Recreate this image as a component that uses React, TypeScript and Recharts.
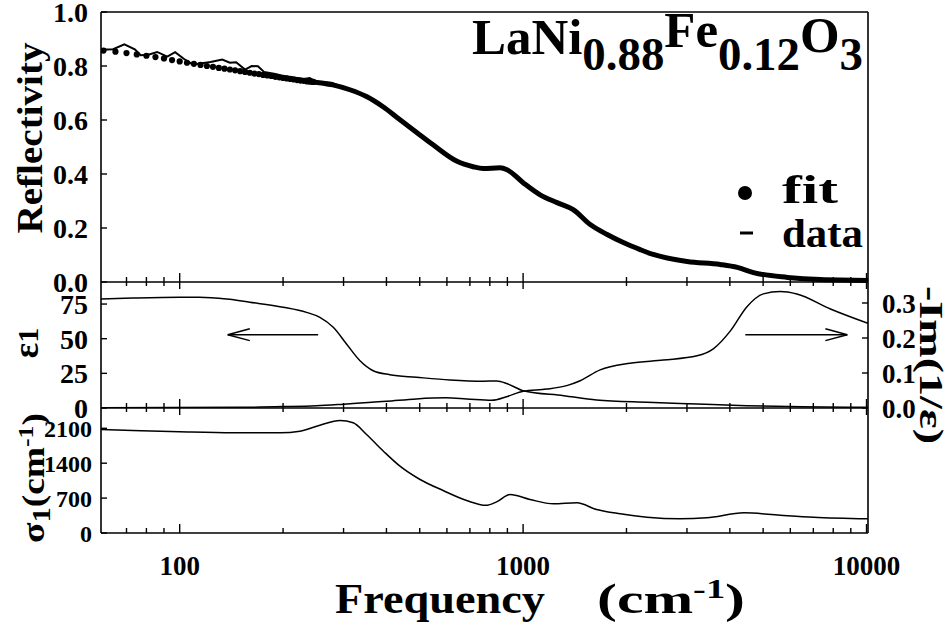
import React from 'react';
import { LineChart, Line, XAxis, YAxis, ReferenceLine } from 'recharts';

const FONT = "'Liberation Serif', 'Times New Roman', Times, serif";

// ---------- x axis (frequency, cm-1, log) ----------
const xDomain = [59, 10100];
const xMajorTicks = [100, 1000, 10000];
const xMinorTicks = [70, 80, 90, 200, 300, 400, 500, 600, 700, 800, 900, 2000, 3000, 4000, 5000, 6000, 7000, 8000, 9000];
const xAllTicks = [...xMinorTicks, ...xMajorTicks].sort((a, b) => a - b);

// ---------- panel 1: reflectivity ----------
const reflTicks = [0, 0.2, 0.4, 0.6, 0.8, 1.0];
const reflFitDotFreq = [60, 65, 70, 75, 80, 85, 90, 95, 100, 105, 110, 115, 120, 125, 130, 135, 140, 145, 150, 155, 160, 165, 170, 175, 180, 185, 190, 195, 200, 205, 210, 215, 220, 225, 230, 235, 240, 245];
const reflFitDotR = [0.857, 0.853, 0.848, 0.843, 0.838, 0.833, 0.828, 0.822, 0.817, 0.812, 0.808, 0.804, 0.8, 0.797, 0.793, 0.79, 0.787, 0.784, 0.781, 0.778, 0.775, 0.772, 0.77, 0.767, 0.765, 0.763, 0.76, 0.758, 0.756, 0.754, 0.752, 0.75, 0.748, 0.746, 0.745, 0.743, 0.742, 0.741];
const reflFitFreq = [240, 279, 313, 351, 391, 438, 491, 547, 642, 715, 765, 857, 898, 1000, 1121, 1256, 1399, 1568, 1757, 1958, 2192, 2393, 3006, 3750, 4207, 4686, 5888, 7340, 10100];
const reflFitR = [0.742, 0.73, 0.712, 0.686, 0.649, 0.601, 0.553, 0.508, 0.447, 0.427, 0.42, 0.423, 0.416, 0.368, 0.323, 0.294, 0.268, 0.213, 0.176, 0.146, 0.12, 0.102, 0.076, 0.065, 0.054, 0.035, 0.017, 0.009, 0.006];
const reflDataFreq = [59, 64, 69, 74, 77, 81, 86, 92, 97, 103, 109, 116, 123, 133, 140, 146, 155, 162, 169, 176, 190, 200, 215, 230, 239, 250, 265, 277, 290, 313, 351, 391, 438, 491, 547, 642, 715, 765, 857, 898, 1000, 1121, 1256, 1399, 1568, 1757, 1958, 2192, 2393, 3006, 3750, 4207, 4686, 5888, 7340, 10100];
const reflDataR = [0.86, 0.862, 0.88, 0.862, 0.84, 0.842, 0.852, 0.835, 0.851, 0.826, 0.806, 0.81, 0.815, 0.824, 0.812, 0.814, 0.787, 0.8, 0.799, 0.778, 0.77, 0.763, 0.757, 0.752, 0.755, 0.742, 0.74, 0.738, 0.728, 0.712, 0.69, 0.649, 0.601, 0.553, 0.508, 0.447, 0.427, 0.42, 0.423, 0.416, 0.368, 0.323, 0.294, 0.268, 0.213, 0.176, 0.146, 0.12, 0.102, 0.076, 0.065, 0.054, 0.035, 0.017, 0.009, 0.006];

// ---------- panel 2: eps1 (left) and -Im(1/eps) (right) ----------
const eps1Ticks = [0, 25, 50, 75];
const lossTicks = [0, 0.1, 0.2, 0.3];
const eps1Freq = [59, 73, 100, 114, 137, 160, 200, 234, 256, 280, 306, 335, 366, 409, 489, 612, 765, 838, 900, 1000, 1312, 1636, 2295, 3210, 4474, 6500, 10100];
const eps1Val = [78.6, 79.3, 79.9, 79.9, 78.6, 76.3, 72.7, 69.0, 65.4, 58.2, 46.2, 34.1, 26.9, 24.0, 22.2, 20.2, 19.3, 19.5, 17.5, 12.5, 8.9, 5.8, 4.1, 2.9, 1.7, 0.9, 0.5];
const lossFreq = [59, 150, 200, 250, 300, 400, 489, 596, 685, 810, 900, 1000, 1171, 1340, 1466, 1676, 2047, 2560, 3210, 3580, 4020, 4474, 5006, 5608, 6270, 7850, 10100];
const lossVal = [0.001, 0.002, 0.004, 0.0066, 0.011, 0.019, 0.026, 0.029, 0.026, 0.022, 0.033, 0.048, 0.054, 0.064, 0.078, 0.109, 0.128, 0.137, 0.149, 0.169, 0.221, 0.288, 0.326, 0.333, 0.326, 0.283, 0.242];
// arrows (eps1 units): left arrow points to eps1 axis, right arrow to loss axis
const arrowLevel = 52.9;
const arrowLeft = [138, 253];
const arrowRight = [4436, 8790];
const arrowHeadBackLeft = 160;
const arrowHeadBackRight = 7590;
const arrowHeadHalf = 4.3;

// ---------- panel 3: sigma1 ----------
const sigmaTicks = [0, 700, 1400, 2100];
const sigmaFreq = [59, 73, 100, 143, 196, 224, 256, 293, 320, 350, 392, 438, 501, 585, 685, 780, 840, 916, 1047, 1225, 1434, 1636, 1917, 2295, 2860, 3425, 4395, 5608, 7010, 10100];
const sigmaVal = [2076, 2056, 2030, 2010, 2010, 2042, 2162, 2256, 2210, 1976, 1641, 1340, 1073, 852, 652, 555, 630, 772, 672, 586, 606, 471, 385, 317, 285, 305, 405, 357, 317, 285];

const zip = (xs: number[], ys: number[]) => xs.map((x, i) => ({ x, y: ys[i] }));

const reflFitDots = zip(reflFitDotFreq, reflFitDotR);
const reflFit = zip(reflFitFreq, reflFitR);
const reflData = zip(reflDataFreq, reflDataR);
const eps1Data = zip(eps1Freq, eps1Val);
const lossData = zip(lossFreq, lossVal);
const sigmaData = zip(sigmaFreq, sigmaVal);

const W = 949;
const H = 626;
const P1_TOP = 12;
const P1_BOTTOM = 282;
const P2_BOTTOM = 408;
const P3_BOTTOM = 533;
const LEFT_W = 101;
const RIGHT_W = 81;
const SW = 1.6;

const txtStyle: React.CSSProperties = { fontFamily: FONT, fontWeight: 700 };

const makeXTick = (cross: boolean, showLabel: boolean) => (props: any) => {
  const { x, y, payload } = props;
  const v = payload.value;
  const major = xMajorTicks.includes(v);
  const up = major ? 9 : 5;
  const down = cross ? (major ? 7 : 4) : 0;
  return (
    <g>
      <line x1={x} x2={x} y1={y - up} y2={y + down} stroke="#000" strokeWidth={1.4} />
      {showLabel && major ? (
        <text x={x} y={y + 42} textAnchor="middle" style={txtStyle} fontSize={27} fill="#000">
          {String(v)}
        </text>
      ) : null}
    </g>
  );
};

const makeLeftTick = (fmt: (v: number) => string, fontSize: number, gap: number) => (props: any) => {
  const { x, y, payload } = props;
  return (
    <g>
      <line x1={x} x2={x + 6} y1={y} y2={y} stroke="#000" strokeWidth={1.4} />
      <text x={x - gap} y={y} dy="0.36em" textAnchor="end" style={txtStyle} fontSize={fontSize} fill="#000">
        {fmt(payload.value)}
      </text>
    </g>
  );
};

const makeRightTick = (fmt: (v: number) => string, fontSize: number, gap: number) => (props: any) => {
  const { x, y, payload } = props;
  return (
    <g>
      <line x1={x - 6} x2={x} y1={y} y2={y} stroke="#000" strokeWidth={1.4} />
      <text x={x + gap} y={y} dy="0.36em" textAnchor="start" style={txtStyle} fontSize={fontSize} fill="#000">
        {fmt(payload.value)}
      </text>
    </g>
  );
};

const axisLine = { stroke: '#000', strokeWidth: SW };

const xAxisProps = (cross: boolean, showLabel: boolean, height: number) => ({
  dataKey: 'x',
  type: 'number' as const,
  scale: 'log' as const,
  domain: xDomain,
  allowDataOverflow: true,
  ticks: xAllTicks,
  interval: 0 as const,
  tickSize: 0,
  tickMargin: 0,
  tickLine: false,
  axisLine,
  height,
  tick: makeXTick(cross, showLabel),
});

const layer: React.CSSProperties = { position: 'absolute', left: 0, top: 0 };

function Panel1() {
  return (
    <LineChart width={W} height={H} margin={{ top: P1_TOP, right: 0, left: 0, bottom: H - P1_BOTTOM - 20 }}>
      <XAxis {...xAxisProps(true, false, 20)} />
      <YAxis
        yAxisId="l"
        type="number"
        domain={[0, 1]}
        ticks={reflTicks}
        interval={0}
        width={LEFT_W}
        tickSize={0}
        tickMargin={0}
        tickLine={false}
        axisLine={axisLine}
        tick={makeLeftTick((v) => v.toFixed(1), 28, 13)}
      />
      <YAxis yAxisId="r" orientation="right" type="number" domain={[0, 1]} width={RIGHT_W} tick={false} tickLine={false} axisLine={axisLine} />
      <ReferenceLine yAxisId="l" y={1} stroke="#000" strokeWidth={SW} />
      <Line yAxisId="l" data={reflData} dataKey="y" type="linear" stroke="#000" strokeWidth={2} dot={false} isAnimationActive={false} />
      <Line yAxisId="l" data={reflFit} dataKey="y" type="monotone" stroke="#000" strokeWidth={5} dot={false} isAnimationActive={false} />
      <Line
        yAxisId="l"
        data={reflFitDots}
        dataKey="y"
        stroke="none"
        dot={{ r: 3.1, fill: '#000', stroke: 'none' }}
        isAnimationActive={false}
      />
    </LineChart>
  );
}

function Panel2() {
  return (
    <LineChart width={W} height={H} margin={{ top: P1_BOTTOM, right: 0, left: 0, bottom: H - P2_BOTTOM - 20 }}>
      <XAxis {...xAxisProps(true, false, 20)} />
      <YAxis
        yAxisId="l"
        type="number"
        domain={[0, 90.9]}
        allowDataOverflow
        ticks={eps1Ticks}
        interval={0}
        width={LEFT_W}
        tickSize={0}
        tickMargin={0}
        tickLine={false}
        axisLine={axisLine}
        tick={makeLeftTick((v) => String(v), 28, 13)}
      />
      <YAxis
        yAxisId="r"
        orientation="right"
        type="number"
        domain={[0, 0.36]}
        allowDataOverflow
        ticks={lossTicks}
        interval={0}
        width={RIGHT_W}
        tickSize={0}
        tickMargin={0}
        tickLine={false}
        axisLine={axisLine}
        tick={makeRightTick((v) => v.toFixed(1), 27, 14)}
      />
      <Line yAxisId="l" data={eps1Data} dataKey="y" type="monotone" stroke="#000" strokeWidth={1.5} dot={false} isAnimationActive={false} />
      <Line yAxisId="r" data={lossData} dataKey="y" type="monotone" stroke="#000" strokeWidth={1.5} dot={false} isAnimationActive={false} />
      <ReferenceLine yAxisId="l" segment={[{ x: arrowLeft[0], y: arrowLevel }, { x: arrowLeft[1], y: arrowLevel }]} stroke="#000" strokeWidth={1.5} />
      <ReferenceLine yAxisId="l" segment={[{ x: arrowLeft[0], y: arrowLevel }, { x: arrowHeadBackLeft, y: arrowLevel + arrowHeadHalf }]} stroke="#000" strokeWidth={1.5} />
      <ReferenceLine yAxisId="l" segment={[{ x: arrowLeft[0], y: arrowLevel }, { x: arrowHeadBackLeft, y: arrowLevel - arrowHeadHalf }]} stroke="#000" strokeWidth={1.5} />
      <ReferenceLine yAxisId="l" segment={[{ x: arrowRight[0], y: arrowLevel }, { x: arrowRight[1], y: arrowLevel }]} stroke="#000" strokeWidth={1.5} />
      <ReferenceLine yAxisId="l" segment={[{ x: arrowRight[1], y: arrowLevel }, { x: arrowHeadBackRight, y: arrowLevel + arrowHeadHalf }]} stroke="#000" strokeWidth={1.5} />
      <ReferenceLine yAxisId="l" segment={[{ x: arrowRight[1], y: arrowLevel }, { x: arrowHeadBackRight, y: arrowLevel - arrowHeadHalf }]} stroke="#000" strokeWidth={1.5} />
    </LineChart>
  );
}

function Panel3() {
  return (
    <LineChart width={W} height={H} margin={{ top: P2_BOTTOM, right: 0, left: 0, bottom: H - P3_BOTTOM - 60 }}>
      <XAxis {...xAxisProps(false, true, 60)} />
      <YAxis
        yAxisId="l"
        type="number"
        domain={[0, 2507]}
        allowDataOverflow
        ticks={sigmaTicks}
        interval={0}
        width={LEFT_W}
        tickSize={0}
        tickMargin={0}
        tickLine={false}
        axisLine={axisLine}
        tick={makeLeftTick((v) => String(v), 24, 9)}
      />
      <YAxis yAxisId="r" orientation="right" type="number" domain={[0, 2507]} width={RIGHT_W} tick={false} tickLine={false} axisLine={axisLine} />
      <Line yAxisId="l" data={sigmaData} dataKey="y" type="monotone" stroke="#000" strokeWidth={1.5} dot={false} isAnimationActive={false} />
    </LineChart>
  );
}

function Overlay() {
  const t = { style: txtStyle, fill: '#000' };
  return (
    <svg width={W} height={H} style={{ ...layer, pointerEvents: 'none' }}>
      <text {...t} fontSize={36} textAnchor="middle" transform="translate(42,138) rotate(-90)" textLength={191} lengthAdjust="spacingAndGlyphs">
        Reflectivity
      </text>
      <text {...t} fontSize={36} textAnchor="middle" transform="translate(38,343) rotate(-90)">
        ε<tspan fontSize={30}>1</tspan>
      </text>
      <text {...t} fontSize={33} textAnchor="middle" transform="translate(920,365) rotate(90)" textLength={158} lengthAdjust="spacingAndGlyphs">
        -Im(1/ε)
      </text>
      <text {...t} fontSize={32} textAnchor="middle" transform="translate(44,478) rotate(-90)" textLength={130} lengthAdjust="spacingAndGlyphs">
        σ<tspan dy={6} fontSize={26}>1</tspan>
        <tspan dy={-6}>(cm</tspan>
        <tspan dy={-11} fontSize={22}>-1</tspan>
        <tspan dy={11}>)</tspan>
      </text>
      <text {...t} fontSize={42} x={335} y={613} textLength={210} lengthAdjust="spacingAndGlyphs">
        Frequency
      </text>
      <text {...t} fontSize={42} x={597} y={613} textLength={148} lengthAdjust="spacingAndGlyphs">
        (cm<tspan dy={-15} fontSize={27}>-1</tspan>
        <tspan dy={15}>)</tspan>
      </text>
      <text {...t} fontSize={50} x={472} y={54} textLength={391} lengthAdjust="spacingAndGlyphs">
        LaNi<tspan fontSize={46} dy={16}>0.88</tspan>
        <tspan dy={-23}>Fe</tspan>
        <tspan fontSize={46} dy={23}>0.12</tspan>
        <tspan dy={-18}>O</tspan>
        <tspan fontSize={46} dy={18}>3</tspan>
      </text>
      <circle cx={745} cy={193} r={7} fill="#000" />
      <text {...t} fontSize={40} x={782} y={203} textLength={56} lengthAdjust="spacingAndGlyphs">fit</text>
      <line x1={740} x2={753} y1={233} y2={233} stroke="#000" strokeWidth={3} />
      <text {...t} fontSize={40} x={782} y={247} textLength={81} lengthAdjust="spacingAndGlyphs">data</text>
    </svg>
  );
}

export default function App() {
  return (
    <div style={{ position: 'absolute', left: 0, top: 0, width: W, height: H, background: '#fff', fontFamily: FONT }}>
      <div style={layer}><Panel1 /></div>
      <div style={layer}><Panel2 /></div>
      <div style={layer}><Panel3 /></div>
      <Overlay />
    </div>
  );
}
